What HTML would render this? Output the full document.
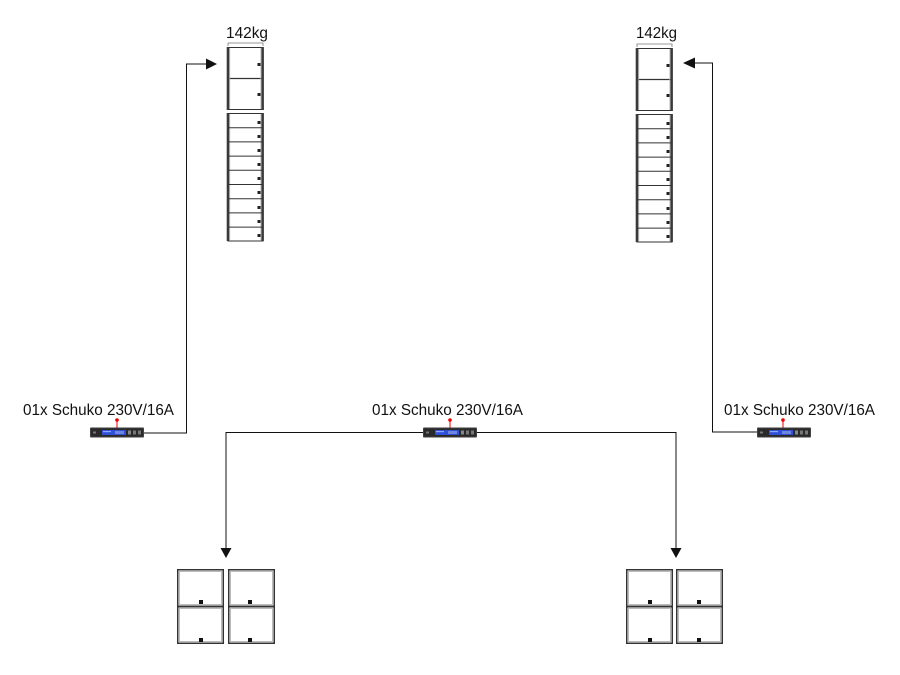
<!DOCTYPE html>
<html>
<head>
<meta charset="utf-8">
<style>
  html,body{margin:0;padding:0;background:#fff;}
  svg{display:block;}
  text{font-family:"Liberation Sans",sans-serif;fill:#111;}
</style>
</head>
<body>
<svg width="900" height="675" viewBox="0 0 900 675" xmlns="http://www.w3.org/2000/svg">
  <defs>
    <g id="arrayUnit">
      <!-- bracket -->
      <path d="M0.5 -1 V-4 H35.5 V-1" fill="none" stroke="#777" stroke-width="0.8"/>
      <!-- upper two boxes -->
      <rect x="0.5" y="0.5" width="35" height="62" fill="#fff" stroke="#333" stroke-width="1"/>
      <line x1="0.5" y1="31.5" x2="35.5" y2="31.5" stroke="#333" stroke-width="1.2"/>
      <rect x="-0.8" y="0" width="2.6" height="63" fill="#3a3a3a"/>
      <rect x="33.8" y="0" width="2.6" height="63" fill="#3a3a3a"/>
      <line x1="2.3" y1="1" x2="2.3" y2="62" stroke="#bbb" stroke-width="0.7"/>
      <line x1="33.3" y1="1" x2="33.3" y2="62" stroke="#bbb" stroke-width="0.7"/>
      <rect x="30" y="16" width="3" height="3" fill="#222"/>
      <rect x="30" y="46" width="3" height="3" fill="#222"/>
      <!-- lower stack -->
      <rect x="0.5" y="66.5" width="35" height="127.5" fill="#fff" stroke="#333" stroke-width="1"/>
      <rect x="-0.8" y="66" width="2.6" height="128" fill="#3a3a3a"/>
      <rect x="33.8" y="66" width="2.6" height="128" fill="#3a3a3a"/>
      <line x1="2.3" y1="67" x2="2.3" y2="193" stroke="#bbb" stroke-width="0.7"/>
      <line x1="33.3" y1="67" x2="33.3" y2="193" stroke="#bbb" stroke-width="0.7"/>
      <g stroke="#333" stroke-width="1">
        <line x1="0.5" y1="80.7" x2="35.5" y2="80.7"/>
        <line x1="0.5" y1="94.9" x2="35.5" y2="94.9"/>
        <line x1="0.5" y1="109.1" x2="35.5" y2="109.1"/>
        <line x1="0.5" y1="123.3" x2="35.5" y2="123.3"/>
        <line x1="0.5" y1="137.5" x2="35.5" y2="137.5"/>
        <line x1="0.5" y1="151.7" x2="35.5" y2="151.7"/>
        <line x1="0.5" y1="165.9" x2="35.5" y2="165.9"/>
        <line x1="0.5" y1="180.1" x2="35.5" y2="180.1"/>
      </g>
      <g fill="#222">
        <rect x="30" y="74" width="3" height="3"/>
        <rect x="30" y="88" width="3" height="3"/>
        <rect x="30" y="102" width="3" height="3"/>
        <rect x="30" y="116" width="3" height="3"/>
        <rect x="30" y="130" width="3" height="3"/>
        <rect x="30" y="144" width="3" height="3"/>
        <rect x="30" y="159" width="3" height="3"/>
        <rect x="30" y="173" width="3" height="3"/>
        <rect x="30" y="187" width="3" height="3"/>
      </g>
    </g>
    <g id="subBox">
      <rect x="0.75" y="0.75" width="45.5" height="36.5" fill="#fff" stroke="#333" stroke-width="1.5"/>
      <rect x="2.5" y="2.5" width="42" height="33" fill="none" stroke="#bbb" stroke-width="1"/>
    </g>
    <g id="amp">
      <rect x="0" y="0" width="54" height="10" rx="1" fill="#2a2a2a"/>
      <rect x="0.5" y="0.5" width="53" height="9" rx="1" fill="none" stroke="#555" stroke-width="0.6"/>
      <rect x="12" y="2.5" width="24" height="5" fill="#2f4fd6"/>
      <rect x="13" y="3.5" width="8" height="1.2" fill="#8fa8ff"/>
      <rect x="25" y="3.5" width="9" height="3" fill="#6f85e0"/>
      <rect x="38" y="3" width="3" height="4" fill="#888"/>
      <rect x="43" y="3" width="3" height="4" fill="#777"/>
      <rect x="48" y="3" width="3" height="4" fill="#777"/>
      <rect x="3" y="4" width="3" height="2" fill="#777"/>
    </g>
  </defs>

  <!-- Labels 142kg -->
  <text x="226" y="38" font-size="15.3" textLength="42" lengthAdjust="spacingAndGlyphs">142kg</text>
  <text x="636" y="38" font-size="15.3" textLength="41" lengthAdjust="spacingAndGlyphs">142kg</text>

  <!-- Arrays -->
  <use href="#arrayUnit" x="227.5" y="47"/>
  <use href="#arrayUnit" x="636.5" y="48"/>

  <!-- Left connector -->
  <polyline points="143,433 186.5,433 186.5,64 207,64" fill="none" stroke="#111" stroke-width="1"/>
  <polygon points="206,58.5 217,64 206,69.5" fill="#111"/>

  <!-- Right connector -->
  <polyline points="757,432 712.5,432 712.5,63 694,63" fill="none" stroke="#111" stroke-width="1"/>
  <polygon points="695,57.5 683,63 695,68.5" fill="#111"/>

  <!-- Middle connector -->
  <polyline points="226,549 226,432.5 676,432.5 676,549" fill="none" stroke="#111" stroke-width="1"/>
  <polygon points="220.5,548 231.5,548 226,558" fill="#111"/>
  <polygon points="670.5,548 681.5,548 676,558" fill="#111"/>

  <!-- Schuko labels -->
  <text x="23" y="415" font-size="15.3" textLength="151" lengthAdjust="spacingAndGlyphs">01x Schuko 230V/16A</text>
  <text x="372" y="415" font-size="15.3" textLength="151" lengthAdjust="spacingAndGlyphs">01x Schuko 230V/16A</text>
  <text x="724" y="415" font-size="15.3" textLength="151" lengthAdjust="spacingAndGlyphs">01x Schuko 230V/16A</text>

  <!-- Amps -->
  <use href="#amp" x="90" y="427.5"/>
  <line x1="117" y1="420" x2="117" y2="427.5" stroke="#e00" stroke-width="1"/>
  <circle cx="117" cy="420" r="1.8" fill="#e00"/>

  <use href="#amp" x="423" y="427.5"/>
  <line x1="450" y1="420" x2="450" y2="427.5" stroke="#e00" stroke-width="1"/>
  <circle cx="450" cy="420" r="1.8" fill="#e00"/>

  <use href="#amp" x="757" y="427.5"/>
  <line x1="783" y1="420" x2="783" y2="427.5" stroke="#e00" stroke-width="1"/>
  <circle cx="783" cy="420" r="1.8" fill="#e00"/>

  <!-- Left subs -->
  <use href="#subBox" x="177" y="569"/>
  <use href="#subBox" x="228" y="569"/>
  <use href="#subBox" x="177" y="606"/>
  <use href="#subBox" x="228" y="606"/>
  <g fill="#111">
    <rect x="199" y="600" width="4" height="4"/>
    <rect x="248" y="600" width="4" height="4"/>
    <rect x="199" y="638" width="4" height="4"/>
    <rect x="248" y="638" width="4" height="4"/>
  </g>

  <!-- Right subs -->
  <use href="#subBox" x="626" y="569"/>
  <use href="#subBox" x="676" y="569"/>
  <use href="#subBox" x="626" y="606"/>
  <use href="#subBox" x="676" y="606"/>
  <g fill="#111">
    <rect x="648" y="600" width="4" height="4"/>
    <rect x="697" y="600" width="4" height="4"/>
    <rect x="648" y="638" width="4" height="4"/>
    <rect x="697" y="638" width="4" height="4"/>
  </g>
</svg>
</body>
</html>
